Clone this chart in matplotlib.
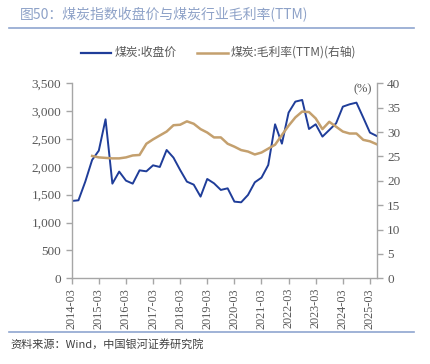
import matplotlib
matplotlib.use("Agg")
import matplotlib.pyplot as plt
import numpy as np
import pandas as pd
from matplotlib.lines import Line2D
import matplotlib.ticker as mticker

# quarterly data
price_dates = pd.date_range("2014-03-31", "2025-06-30", freq="QE")
price = [1388, 1400, 1735, 2124, 2291, 2854, 1699, 1915, 1753, 1699, 1938, 1920,
         2028, 1998, 2303, 2166, 1944, 1735, 1681, 1466, 1783, 1705, 1586, 1615,
         1376, 1364, 1496, 1723, 1807, 2034, 2764, 2417, 2974, 3171, 3201, 2680,
         2764, 2543, 2662, 2782, 3081, 3123, 3153, 2884, 2615, 2555]
margin_dates = pd.date_range("2014-12-31", "2025-06-30", freq="QE")
margin = [25.1, 24.8, 24.7, 24.6, 24.6, 24.8, 25.2, 25.3, 27.6, 28.5, 29.3, 30.1,
          31.4, 31.5, 32.2, 31.7, 30.6, 29.9, 28.9, 28.9, 27.6, 27.0, 26.3, 26.0,
          25.4, 25.8, 26.6, 27.4, 29.4, 31.3, 33.0, 34.2, 34.1, 32.8, 30.6, 32.1,
          31.1, 30.1, 29.7, 29.7, 28.4, 28.1, 27.5]
tick_labels = [f"{y}-03" for y in range(2014, 2026)]
tick_dates = pd.to_datetime([f"{y}-03-31" for y in range(2014, 2026)])

blue = "#1f3d99"
brown = "#c4a06e"
gray = "#595959"
spine = "#a6a6a6"
serif = ["Liberation Serif", "DejaVu Serif"]
cjk = ["Noto Sans CJK SC", "DejaVu Sans"]

fig = plt.figure(figsize=(4.3, 3.64), dpi=100)
ax = fig.add_axes([71.7/430, 1-278.3/364, (376.7-71.7)/430, (278.3-83.3)/364])
ax2 = ax.twinx()

ax.plot(price_dates, price, color=blue, lw=1.4)
ax2.plot(margin_dates, margin, color=brown, lw=1.8)

ax.set_xlim(price_dates[0], price_dates[-1])
ax.set_ylim(0, 3500)
ax2.set_ylim(0, 40)
ax.set_yticks(np.arange(0, 3501, 500))
ax.yaxis.set_major_formatter(mticker.FuncFormatter(lambda v, p: f"{int(v):,}"))
ax2.set_yticks(np.arange(0, 41, 5))
ax.set_xticks(tick_dates)
ax.set_xticklabels(tick_labels, rotation=90)

for a in (ax, ax2):
    a.spines["top"].set_visible(False)
    for s in ("left", "right", "bottom"):
        a.spines[s].set_color(spine)
        a.spines[s].set_linewidth(1.0)
    a.tick_params(colors=spine, labelcolor=gray, length=4, width=1.0, labelsize=9.5)
    for lab in a.get_xticklabels() + a.get_yticklabels():
        lab.set_family(serif)
ax.tick_params(axis="x", labelsize=8.8, pad=3)
ax.spines["right"].set_visible(False)
ax2.spines["left"].set_visible(False)
ax2.spines["bottom"].set_visible(False)

fig.text(372/430, 1-89/364, "(%)", ha="right", va="center",
         color=gray, fontsize=9, family=serif)

# legend
fig.add_artist(Line2D([81/430, 111/430], [1-52.5/364]*2, color=blue, lw=1.6, transform=fig.transFigure))
fig.text(115/430, 1-52.5/364, "煤炭:收盘价", ha="left", va="center", color=gray, fontsize=8.5, family=cjk)
fig.add_artist(Line2D([197/430, 228/430], [1-52.5/364]*2, color=brown, lw=1.8, transform=fig.transFigure))
fig.text(231/430, 1-52.5/364, "煤炭:毛利率(TTM)(右轴)", ha="left", va="center", color=gray, fontsize=8.5, family=cjk)

# title and rules
fig.text(20/430, 1-15/364, "图50：煤炭指数收盘价与煤炭行业毛利率(TTM)", ha="left", va="center",
         color="#8ea2c8", fontsize=10, family=cjk)
fig.add_artist(Line2D([9/430, 414/430], [1-27.5/364]*2, color="#8fa5cf", lw=1.2, transform=fig.transFigure))
fig.add_artist(Line2D([9/430, 414/430], [1-331.5/364]*2, color="#8fa5cf", lw=1.2, transform=fig.transFigure))
fig.text(10/430, 1-344/364, "资料来源：Wind，中国银河证券研究院", ha="left", va="center",
         color="#404040", fontsize=8, family=cjk, style="italic")

fig.savefig("out.png", dpi=100)
